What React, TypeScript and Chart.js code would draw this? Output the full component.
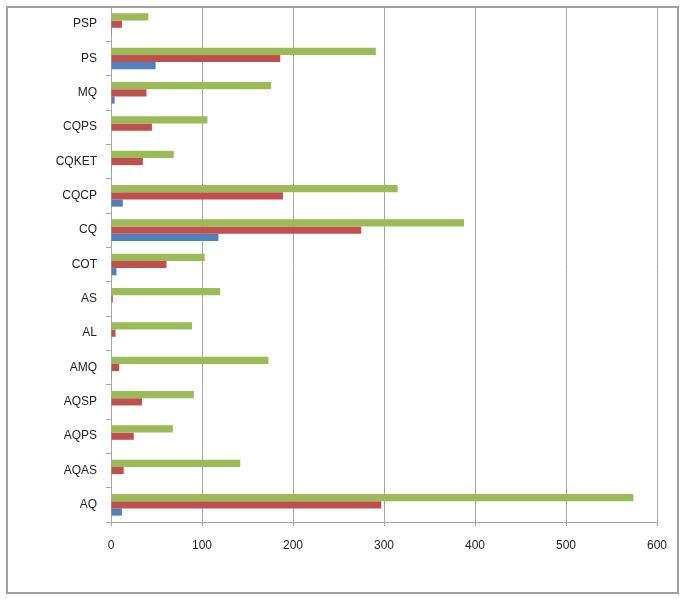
import React, { useEffect, useRef } from "react";
import { Chart, registerables } from "chart.js";

Chart.register(...registerables);

// Categories listed top-to-bottom as drawn
const categories = ["PSP", "PS", "MQ", "CQPS", "CQKET", "CQCP", "CQ", "COT", "AS", "AL", "AMQ", "AQSP", "AQPS", "AQAS", "AQ"];
const seriesGreen = [41, 291, 176, 106, 69, 315, 388, 103, 120, 89, 173, 91, 68, 142, 574];
const seriesRed = [12, 186, 39, 45, 35, 189, 275, 61, 2, 5, 9, 34, 25, 14, 297];
const seriesBlue = [1, 49, 4, 0, 1, 13, 118, 6, 0, 0, 1, 0, 0, 0, 12];
const xTicks = [0, 100, 200, 300, 400, 500, 600];

const framePlugin = {
  id: "frame",
  afterDraw(chart: any) {
    const ctx = chart.ctx;
    ctx.save();
    ctx.strokeStyle = "#a0a0a0";
    ctx.lineWidth = 2;
    ctx.strokeRect(7, 7, 671, 586);
    ctx.restore();
  },
};

export default function App() {
  const ref = useRef<HTMLCanvasElement>(null);
  useEffect(() => {
    document.body.style.margin = "0";
    const font = { family: "'Liberation Sans', Arial, sans-serif", size: 12 };
    const chart = new Chart(ref.current!, {
      type: "bar",
      data: {
        labels: categories,
        datasets: [
          { label: "Series3", data: seriesGreen, backgroundColor: "#9bbb59" },
          { label: "Series2", data: seriesRed, backgroundColor: "#c0504d" },
          { label: "Series1", data: seriesBlue, backgroundColor: "#4f81bd" },
        ],
      },
      options: {
        indexAxis: "y",
        responsive: false,
        animation: false,
        layout: { padding: { top: 7, right: 28, bottom: 0, left: 0 } },
        plugins: { legend: { display: false }, tooltip: { enabled: false } },
        datasets: { bar: { categoryPercentage: 0.63, barPercentage: 1 } },
        scales: {
          x: {
            min: 0,
            max: 600,
            afterBuildTicks(scale: any) {
              scale.ticks = xTicks.map((v) => ({ value: v }));
            },
            afterFit(scale: any) {
              scale.height = 77;
            },
            grid: { color: "#a6a6a6", tickLength: 4, lineWidth: 1 },
            border: { color: "#a6a6a6" },
            ticks: { font, color: "#222", padding: 12, maxRotation: 0 },
          },
          y: {
            afterFit(scale: any) {
              scale.width = 111;
              scale.paddingTop = 0;
              scale.paddingBottom = 0;
            },
            grid: { drawOnChartArea: false, color: "#a6a6a6", tickLength: 5 },
            border: { color: "#a6a6a6" },
            ticks: { font, color: "#222", padding: 9 },
          },
        },
      },
      plugins: [framePlugin],
    } as any);
    return () => chart.destroy();
  }, []);
  return <canvas ref={ref} width={685} height={599} style={{ display: "block" }} />;
}
